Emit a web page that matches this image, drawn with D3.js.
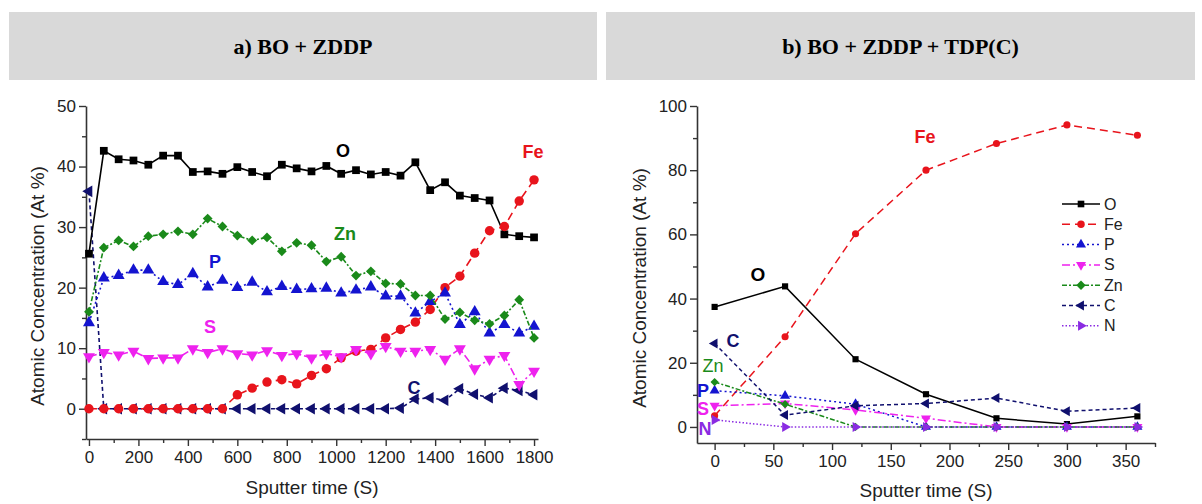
<!DOCTYPE html>
<html><head><meta charset="utf-8">
<script src="https://cdn.jsdelivr.net/npm/d3@7"></script>
<style>
body{margin:0;background:#fff;}
svg{display:block;}
text{font-family:"Liberation Sans",Arial,sans-serif;}
</style></head>
<body>
<svg id="chart" width="1202" height="504"></svg>
<script>
// ---------- Data: panel a) BO + ZDDP ----------
const timeA = [0,60,120,180,240,300,360,420,480,540,600,660,720,780,840,900,960,1020,1080,1140,1200,1260,1320,1380,1440,1500,1560,1620,1680,1740,1800];
const oA  = [25.6,42.6,41.2,41.0,40.3,41.8,41.8,39.1,39.2,38.8,39.9,39.1,38.4,40.3,39.7,39.2,40.1,38.8,39.4,38.7,39.1,38.5,40.7,36.1,37.4,35.2,34.8,34.4,28.8,28.5,28.3];
const feA = [0,0,0,0,0,0,0,0,0,0,2.3,3.4,4.4,4.8,4.1,5.5,6.6,8.4,9.5,9.8,11.7,13.1,14.3,16.4,20.0,21.9,25.7,29.4,30.1,34.3,37.8];
const pA  = [14.2,21.6,22.0,22.9,22.9,21.0,20.5,22.3,20.1,21.2,20.0,20.9,19.3,20.2,19.7,19.8,19.9,19.1,19.6,20.1,18.6,18.6,15.8,17.7,19.1,13.9,16.0,12.5,13.9,12.5,13.6];
const sA  = [8.6,9.3,8.9,9.5,8.3,8.4,8.4,9.9,9.3,9.9,9.1,8.9,9.6,8.8,9.1,8.4,9.1,8.6,9.8,9.1,10.3,9.5,9.5,9.8,8.2,9.9,6.6,8.2,8.8,4.0,6.2];
const znA = [16.0,26.6,27.8,26.8,28.5,28.8,29.3,28.8,31.4,30.1,28.6,27.8,28.3,26.0,27.4,27.0,24.3,25.1,22.0,22.7,20.7,20.6,18.7,18.7,14.8,15.9,14.6,14.0,15.4,18.0,11.7];
const cA  = [35.9,0,0,0,0,0,0,0,0,0,0,0,0,0,0,0,0,0,0,0,0,0.1,1.6,1.8,1.4,3.3,2.4,1.8,3.4,3.0,2.3];

// ---------- Data: panel b) BO + ZDDP + TDP(C) ----------
const timeB = [0,60,120,180,240,300,360];
const oB  = [37.4,43.8,21.1,10.2,2.7,0.9,3.3];
const feB = [3.5,28.1,60.2,80.0,88.3,94.1,90.9];
const pB  = [11.3,9.7,7.1,0,0,0,0];
const sB  = [6.6,7.3,5.3,2.7,0,0,0];
const znB = [14.0,7.1,0,0,0,0,0];
const cB  = [26.0,3.7,6.6,7.3,9.0,4.9,5.9];
const nB  = [2.2,0,0,0,0,0,0];

// ---------- Tick values / labels ----------
const yTicksA = [0,10,20,30,40,50];
const yMinorA = [-5,5,15,25,35,45];
const xTicksA = [0,200,400,600,800,1000,1200,1400,1600,1800];
const xMinorA = [100,300,500,700,900,1100,1300,1500,1700];
const yTicksB = [0,20,40,60,80,100];
const yMinorB = [10,30,50,70,90];
const xTicksB = [0,50,100,150,200,250,300,350];
const xMinorB = [25,75,125,175,225,275,325,375];

const titles = ["a) BO + ZDDP", "b) BO + ZDDP + TDP(C)"];
const xTitle = "Sputter time (S)";
const yTitle = "Atomic Concentration (At %)";
const legendNames = ["O","Fe","P","S","Zn","C","N"];

// ---------- Styles ----------
const style = {
  O:  {color:"#000000", dash:null,        sym:d3.symbolSquare,   rot:0},
  Fe: {color:"#e8141c", dash:"8,5",       sym:d3.symbolCircle,   rot:0},
  P:  {color:"#1414d0", dash:"2,3",       sym:d3.symbolTriangle, rot:0},
  S:  {color:"#ee22ee", dash:"8,3,2,3",   sym:d3.symbolTriangle, rot:180},
  Zn: {color:"#1a8a1a", dash:"5,2,2,2",   sym:d3.symbolSquare,   rot:45},
  C:  {color:"#10106e", dash:"4,3",       sym:d3.symbolTriangle, rot:-90},
  N:  {color:"#8a2be2", dash:"1.5,2",     sym:d3.symbolTriangle, rot:90}
};

const svg = d3.select("#chart");

// Header boxes
const headers = [{x:9,w:588},{x:606,w:589}];
headers.forEach((h,i)=>{
  svg.append("rect").attr("x",h.x).attr("y",12).attr("width",h.w).attr("height",68).attr("fill","#d9d9d9");
  svg.append("text").attr("x",h.x+h.w/2).attr("y",54).attr("text-anchor","middle")
    .style("font-family","'Liberation Serif','Times New Roman',serif").style("font-weight","bold")
    .style("font-size","22px").attr("fill","#000").text(titles[i]);
});

function panel(cfg){
  const x = d3.scaleLinear().domain(cfg.xDomain).range([cfg.left,cfg.right]);
  const y = d3.scaleLinear().domain(cfg.yDomain).range([cfg.bottom,cfg.top]);
  const g = svg.append("g");
  const fmt = d3.format("d");

  // Minor ticks
  g.append("g").attr("transform",`translate(0,${cfg.bottom})`)
    .call(d3.axisBottom(x).tickValues(cfg.xMinor).tickSize(4).tickFormat("").tickSizeOuter(0))
    .call(s=>s.select(".domain").remove());
  g.append("g").attr("transform",`translate(${cfg.left},0)`)
    .call(d3.axisLeft(y).tickValues(cfg.yMinor).tickSize(4).tickFormat("").tickSizeOuter(0))
    .call(s=>s.select(".domain").remove());
  // Major axes
  const xa = g.append("g").attr("transform",`translate(0,${cfg.bottom})`)
    .call(d3.axisBottom(x).tickValues(cfg.xTicks).tickFormat(fmt).tickSize(7).tickPadding(5).tickSizeOuter(0));
  const ya = g.append("g").attr("transform",`translate(${cfg.left},0)`)
    .call(d3.axisLeft(y).tickValues(cfg.yTicks).tickFormat(fmt).tickSize(7).tickPadding(3).tickSizeOuter(0));
  [xa,ya].forEach(a=>{
    a.selectAll("text").style("font-size","17px").attr("fill","#222");
  });
  g.selectAll(".tick line").attr("stroke","#333").attr("stroke-width",1.4);
  g.selectAll(".domain").attr("stroke","#333").attr("stroke-width",1.6);

  // Axis titles
  g.append("text").attr("x",(cfg.left+cfg.right)/2).attr("y",cfg.xTitleY).attr("text-anchor","middle")
    .style("font-size","19px").attr("fill","#222").text(xTitle);
  g.append("text").attr("transform",`translate(${cfg.yTitleX},${cfg.yTitleCY}) rotate(-90)`).attr("text-anchor","middle")
    .style("font-size","19px").attr("fill","#222").text(yTitle);

  // Series
  cfg.series.forEach(sr=>{
    const st = style[sr.name];
    const pts = cfg.time.map((t,i)=>[t,sr.values[i]]);
    g.append("path").datum(pts)
      .attr("d",d3.line().x(d=>x(d[0])).y(d=>y(d[1])))
      .attr("fill","none").attr("stroke",st.color).attr("stroke-width",cfg.lw)
      .attr("stroke-dasharray",st.dash);
    const sz = cfg.msize[sr.name];
    g.selectAll(null).data(pts).enter().append("path")
      .attr("d",d3.symbol().type(st.sym).size(sz))
      .attr("transform",d=>`translate(${x(d[0])},${y(d[1])}) rotate(${st.rot})`)
      .attr("fill",st.color);
  });

  // Labels
  cfg.labels.forEach(l=>{
    g.append("text").attr("x",l.x).attr("y",l.y).attr("text-anchor","middle")
      .attr("dominant-baseline","central")
      .style("font-size",(l.size||18)+"px").style("font-weight",l.bold===false?"normal":"bold")
      .attr("fill",style[l.name].color).text(l.name);
  });
  return {x,y,g};
}

panel({
  left:86,right:538,top:106,bottom:439,
  xDomain:[-12,1816], yDomain:[-5,50],
  xTicks:xTicksA,xMinor:xMinorA,yTicks:yTicksA,yMinor:yMinorA,
  xTitleY:494, yTitleX:44, yTitleCY:286,
  time:timeA, lw:1.6,
  msize:{O:60,Fe:70,P:62,S:62,Zn:48,C:58,N:58},
  series:[
    {name:"C",values:cA},{name:"O",values:oA},{name:"Fe",values:feA},
    {name:"P",values:pA},{name:"S",values:sA},{name:"Zn",values:znA}
  ],
  labels:[
    {name:"O",x:343,y:151},{name:"Fe",x:533,y:152},{name:"Zn",x:345,y:234},
    {name:"P",x:215,y:262},{name:"S",x:210,y:327},{name:"C",x:414,y:388}
  ]
});

panel({
  left:697,right:1155,top:106,bottom:443,
  xDomain:[-15,375], yDomain:[-5,100],
  xTicks:xTicksB,xMinor:xMinorB,yTicks:yTicksB,yMinor:yMinorB,
  xTitleY:497, yTitleX:646, yTitleCY:288,
  time:timeB, lw:1.5,
  msize:{O:38,Fe:40,P:44,S:44,Zn:34,C:44,N:44},
  series:[
    {name:"O",values:oB},{name:"Fe",values:feB},{name:"P",values:pB},
    {name:"S",values:sB},{name:"Zn",values:znB},{name:"C",values:cB},{name:"N",values:nB}
  ],
  labels:[
    {name:"Fe",x:925,y:137},{name:"O",x:758,y:274,size:19},{name:"C",x:733,y:341},
    {name:"Zn",x:713,y:366,bold:false},{name:"P",x:703,y:391},{name:"S",x:703,y:409},{name:"N",x:705,y:429}
  ]
});

// Legend (panel b)
const lg = svg.append("g");
legendNames.forEach((n,i)=>{
  const st = style[n];
  const yy = 204 + i*20.3;
  lg.append("line").attr("x1",1062).attr("x2",1100).attr("y1",yy).attr("y2",yy)
    .attr("stroke",st.color).attr("stroke-width",1.5).attr("stroke-dasharray",st.dash);
  lg.append("path").attr("d",d3.symbol().type(st.sym).size(44))
    .attr("transform",`translate(1081,${yy}) rotate(${st.rot})`).attr("fill",st.color);
  lg.append("text").attr("x",1104).attr("y",yy).attr("dominant-baseline","central")
    .style("font-size","16px").attr("fill","#222").text(n);
});
</script>
</body></html>
